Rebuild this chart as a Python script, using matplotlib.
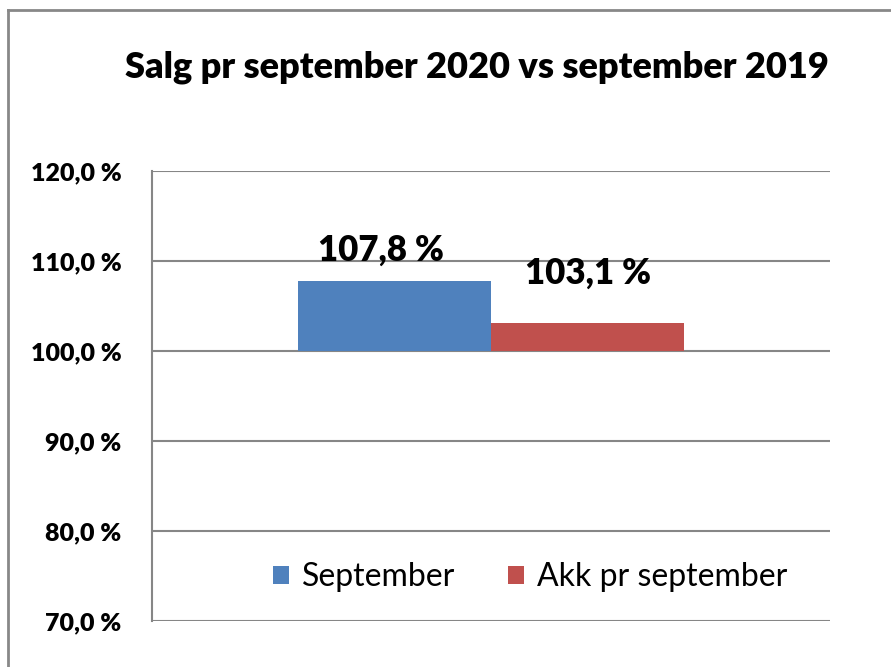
import matplotlib.pyplot as plt
from matplotlib.lines import Line2D

series = ["September", "Akk pr september"]
values = [107.8, 103.1]
colors = ["#4F81BD", "#C0504D"]
label_offsets = [(-10, 10), (0, 24)]  # points, as placed in the original
yticks = [70, 80, 90, 100, 110, 120]

plt.rcParams['font.family'] = ['Lato', 'DejaVu Sans']

fig = plt.figure(figsize=(8.91, 6.67), dpi=100)
ax = fig.add_axes([152 / 891, 1 - 621 / 667, (830 - 152) / 891, (621 - 171) / 667])

width = 0.285
xs = [-width / 2, width / 2]
for x, v, c, name, off in zip(xs, values, colors, series, label_offsets):
    ax.bar(x, v - 100, bottom=100, width=width, color=c, label=name, zorder=3)
    ax.annotate(f"{v:.1f} %".replace(".", ","), (x, v), xytext=off,
                textcoords="offset points", ha="center", va="bottom",
                fontsize=25, fontweight="heavy")

ax.set_xlim(-0.5, 0.5)
ax.set_ylim(70, 120)
ax.set_yticks(yticks)
ax.set_yticklabels([f"{t:.1f} %".replace(".", ",") for t in yticks],
                   fontsize=18, fontweight="heavy")
ax.tick_params(axis="y", length=0, pad=22)
ax.set_xticks([])
ax.grid(axis="y", color="#868686", linewidth=1.5, zorder=0)
for s in ["top", "right", "bottom"]:
    ax.spines[s].set_visible(False)
ax.spines["left"].set_color("#868686")
ax.spines["left"].set_linewidth(1.5)

fig.text(477 / 891, 1 - 67 / 667, "Salg pr september 2020 vs september 2019",
         ha="center", va="center", fontsize=26, fontweight="heavy")

ax.legend(loc="center", bbox_to_anchor=(530 / 891, 1 - 577 / 667),
          bbox_transform=fig.transFigure, ncol=2, frameon=False, fontsize=23,
          handlelength=0.5, handleheight=0.5, handletextpad=0.4, columnspacing=1.65)

# chart area border (left and top edges visible)
fig.add_artist(Line2D([8 / 891, 8 / 891], [0, 1 - 10 / 667], color="#888888", lw=2))
fig.add_artist(Line2D([8 / 891, 1], [1 - 10 / 667, 1 - 10 / 667], color="#888888", lw=2))

fig.savefig("out.png", dpi=100)
